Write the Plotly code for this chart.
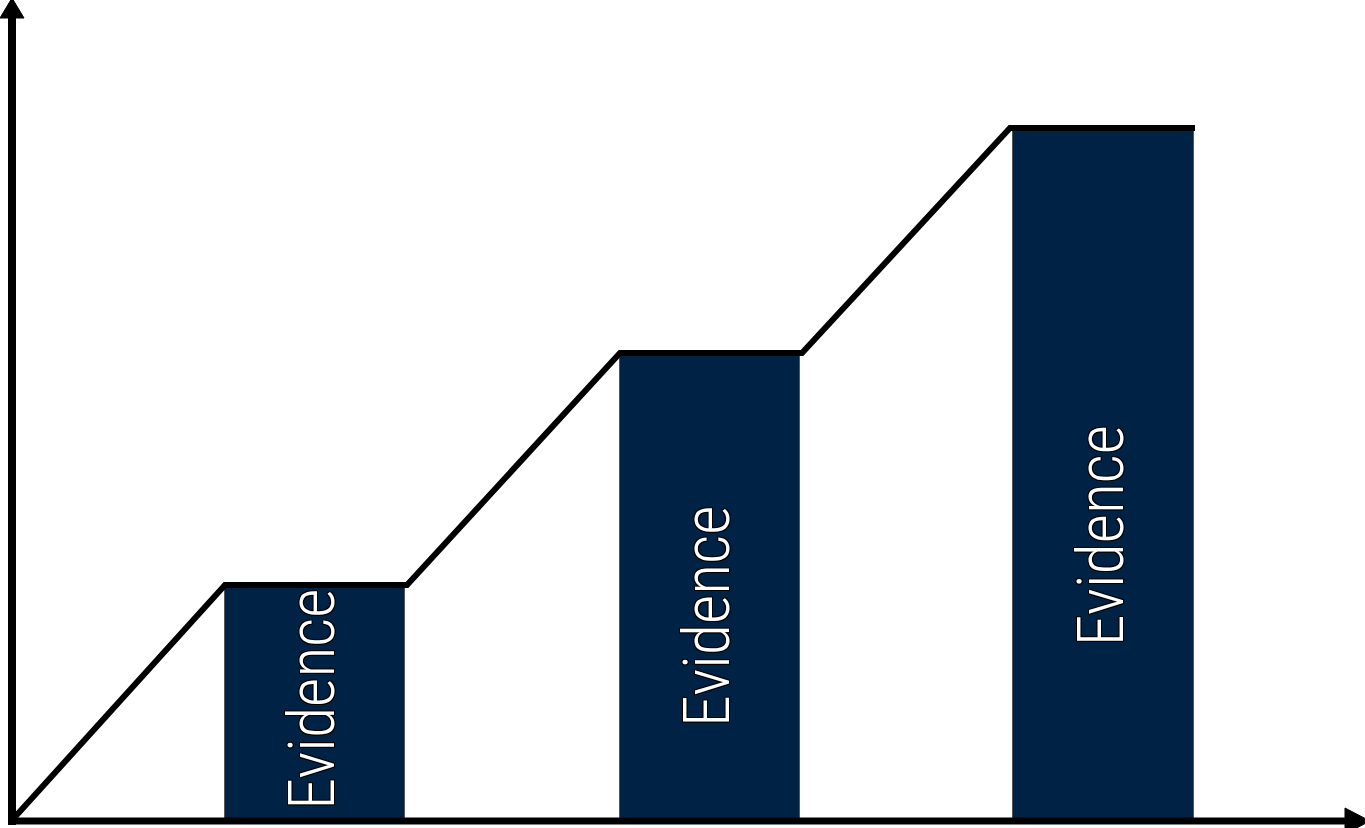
import plotly.graph_objects as go

# Data (abstract units; origin at the axes corner)
bar_labels = ["Evidence", "Evidence", "Evidence"]
bar_centers = [303, 698, 1091]
bar_widths = [180, 180, 181]
bar_heights = [233, 466, 691]
label_frac = [0.52, 0.438, 0.412]

step_x = [2, 213, 395, 608, 790, 998, 1183]
step_y = [3, 236, 236, 468, 468, 693, 693]

NAVY = "#002245"

fig = go.Figure()

fig.add_trace(go.Bar(
    x=bar_centers, y=bar_heights, width=bar_widths,
    marker=dict(color=NAVY, line=dict(color="#555555", width=1)),
    hoverinfo="skip", showlegend=False,
))

fig.add_trace(go.Scatter(
    x=step_x, y=step_y, mode="lines",
    line=dict(color="black", width=6),
    hoverinfo="skip", showlegend=False,
))

for lab, cx, h, f in zip(bar_labels, bar_centers, bar_heights, label_frac):
    fig.add_annotation(
        x=cx - 2, y=h * f, xref="x", yref="y", text=lab, textangle=-90,
        showarrow=False,
        font=dict(family="Roboto Condensed, Liberation Sans, sans-serif",
                  size=64, color="white", weight=300,
                  shadow="1px 1px 0 #000, -1px -1px 0 #000, 1px -1px 0 #000, -1px 1px 0 #000"),
    )

# Axes with arrowheads
shapes = [
    dict(type="line", xref="x", yref="y", x0=0, y0=-4, x1=0, y1=806,
         line=dict(color="black", width=8)),
    dict(type="path", xref="x", yref="y", path="M -12,803 L 12,803 L 0,823 Z",
         fillcolor="black", line=dict(color="black", width=1)),
    dict(type="line", xref="x", yref="y", x0=-4, y0=0, x1=1336, y1=0,
         line=dict(color="black", width=7)),
    dict(type="path", xref="x", yref="y", path="M 1333,13 L 1333,-13 L 1358,0 Z",
         fillcolor="black", line=dict(color="black", width=1)),
]

fig.update_layout(
    width=1365, height=828,
    margin=dict(l=0, r=0, t=0, b=0),
    paper_bgcolor="white", plot_bgcolor="white",
    shapes=shapes,
    xaxis=dict(range=[-12, 1353], visible=False, fixedrange=True),
    yaxis=dict(range=[-7, 821], visible=False, fixedrange=True),
    bargap=0,
)

fig.write_html("out.html", config={"displayModeBar": False},
               post_script="document.body.style.margin='0';")
